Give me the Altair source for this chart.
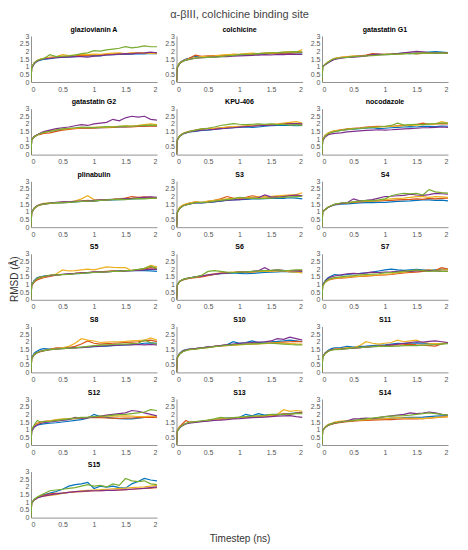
import altair as alt
import pandas as pd

# time points (ns)
T = [0, 0.01, 0.05, 0.1, 0.15, 0.2, 0.3, 0.4, 0.5, 0.6, 0.7, 0.8, 0.9, 1.0,
     1.1, 1.2, 1.3, 1.4, 1.5, 1.6, 1.7, 1.8, 1.9, 2.0]
SERIES = ["run1", "run2", "run3", "run4", "run5"]
COLORS = ["#0072BD", "#D95319", "#EDB120", "#7E2F8E", "#77AC30"]
X_TICKS = [0, 0.5, 1, 1.5, 2]
Y_TICKS = [0, 0.5, 1, 1.5, 2, 2.5, 3]
MAIN_TITLE = "α-βIII, colchicine binding site"
X_TITLE = "Timestep (ns)"
Y_TITLE = "RMSD (Å)"

GLAZIOVIANIN_A = [
    [0, 0.9, 1.2, 1.35, 1.42, 1.48, 1.52, 1.58, 1.6, 1.62, 1.66, 1.68, 1.7, 1.72, 1.7, 1.76, 1.78, 1.8, 1.8, 1.82, 1.85, 1.83, 1.86, 1.85],
    [0, 0.95, 1.25, 1.4, 1.48, 1.52, 1.6, 1.62, 1.68, 1.66, 1.72, 1.75, 1.74, 1.78, 1.76, 1.8, 1.82, 1.86, 1.84, 1.88, 1.9, 1.88, 1.92, 1.9],
    [0, 0.95, 1.25, 1.42, 1.5, 1.55, 1.6, 1.66, 1.78, 1.72, 1.76, 1.8, 1.78, 1.82, 1.8, 1.85, 1.88, 1.9, 1.86, 1.9, 1.88, 1.92, 1.86, 1.85],
    [0, 0.9, 1.2, 1.38, 1.45, 1.5, 1.55, 1.58, 1.62, 1.64, 1.66, 1.65, 1.62, 1.68, 1.72, 1.76, 1.78, 1.82, 1.85, 1.84, 1.88, 1.9, 1.95, 1.9],
    [0, 0.95, 1.25, 1.4, 1.48, 1.52, 1.78, 1.66, 1.68, 1.7, 1.75, 1.85, 1.9, 2.05, 2.02, 2.1, 2.15, 2.2, 2.3, 2.22, 2.28, 2.35, 2.3, 2.3],
]
COLCHICINE = [
    [0, 0.95, 1.25, 1.4, 1.5, 1.55, 1.68, 1.62, 1.65, 1.68, 1.7, 1.72, 1.75, 1.76, 1.78, 1.8, 1.82, 1.84, 1.85, 1.86, 1.88, 1.9, 1.92, 1.9],
    [0, 0.95, 1.25, 1.38, 1.45, 1.55, 1.75, 1.68, 1.7, 1.72, 1.7, 1.75, 1.8, 1.78, 1.82, 1.8, 1.84, 1.86, 1.85, 1.88, 1.9, 1.88, 1.92, 1.95],
    [0, 0.95, 1.22, 1.36, 1.45, 1.5, 1.6, 1.65, 1.68, 1.7, 1.75, 1.78, 1.8, 1.82, 1.85, 1.88, 1.86, 1.9, 1.92, 1.9, 1.95, 1.98, 1.95, 2.12],
    [0, 0.9, 1.2, 1.35, 1.42, 1.48, 1.55, 1.58, 1.6, 1.62, 1.65, 1.66, 1.68, 1.7, 1.72, 1.74, 1.75, 1.78, 1.76, 1.8, 1.78, 1.82, 1.8, 1.8],
    [0, 0.95, 1.22, 1.35, 1.42, 1.48, 1.55, 1.58, 1.6, 1.62, 1.66, 1.7, 1.74, 1.78, 1.8, 1.82, 1.85, 1.88, 1.9, 1.92, 1.95, 1.96, 1.98, 1.95],
]
GATASTATIN_G1 = [
    [0, 1.0, 1.15, 1.28, 1.4, 1.5, 1.58, 1.62, 1.66, 1.7, 1.72, 1.8, 1.78, 1.8, 1.84, 1.86, 1.88, 1.85, 1.9, 1.92, 1.95, 1.98, 1.95, 1.92],
    [0, 1.0, 1.15, 1.3, 1.42, 1.52, 1.6, 1.64, 1.68, 1.7, 1.75, 1.85, 1.82, 1.8, 1.82, 1.85, 1.86, 1.88, 1.84, 1.86, 1.88, 1.9, 1.92, 1.88],
    [0, 1.0, 1.15, 1.3, 1.45, 1.55, 1.6, 1.65, 1.7, 1.68, 1.72, 1.75, 1.78, 1.8, 1.82, 1.8, 1.85, 1.86, 1.88, 1.9, 1.86, 1.88, 1.9, 1.92],
    [0, 1.0, 1.12, 1.25, 1.38, 1.48, 1.55, 1.6, 1.62, 1.65, 1.7, 1.78, 1.82, 1.78, 1.8, 1.85, 1.9, 1.95, 2.0, 1.96, 1.92, 1.88, 1.92, 1.9],
    [0, 1.0, 1.15, 1.3, 1.45, 1.52, 1.58, 1.6, 1.65, 1.68, 1.7, 1.72, 1.75, 1.78, 1.8, 1.82, 1.84, 1.86, 1.85, 1.88, 1.9, 1.88, 1.9, 1.88],
]
GATASTATIN_G2 = [
    [0, 0.95, 1.15, 1.3, 1.38, 1.45, 1.55, 1.6, 1.65, 1.7, 1.72, 1.74, 1.72, 1.75, 1.76, 1.78, 1.8, 1.82, 1.8, 1.84, 1.85, 1.86, 1.9, 1.88],
    [0, 0.95, 1.15, 1.28, 1.32, 1.38, 1.42, 1.52, 1.6, 1.65, 1.7, 1.72, 1.74, 1.72, 1.75, 1.76, 1.78, 1.8, 1.82, 1.8, 1.84, 1.86, 1.85, 1.85],
    [0, 0.95, 1.18, 1.3, 1.38, 1.45, 1.55, 1.62, 1.66, 1.7, 1.72, 1.75, 1.76, 1.78, 1.8, 1.78, 1.82, 1.85, 1.88, 1.86, 1.9, 1.95, 2.0, 1.95],
    [0, 0.95, 1.18, 1.3, 1.4, 1.5, 1.6, 1.7, 1.75, 1.8, 1.88, 1.95, 1.9, 2.0, 2.05, 2.1, 2.3, 2.2, 2.4, 2.5, 2.45, 2.5, 2.3, 2.25],
    [0, 0.95, 1.15, 1.28, 1.38, 1.45, 1.52, 1.6, 1.68, 1.72, 1.75, 1.8, 1.78, 1.76, 1.8, 1.82, 1.8, 1.84, 1.86, 1.85, 1.88, 1.9, 1.92, 1.9],
]
KPU_406 = [
    [0, 0.95, 1.2, 1.35, 1.42, 1.48, 1.52, 1.58, 1.6, 1.65, 1.7, 1.72, 1.75, 1.78, 1.8, 1.78, 1.8, 1.85, 1.88, 1.9, 1.92, 1.9, 1.88, 1.9],
    [0, 0.95, 1.22, 1.38, 1.45, 1.52, 1.6, 1.68, 1.72, 1.7, 1.75, 1.78, 1.8, 1.82, 1.85, 1.88, 1.9, 1.92, 1.95, 1.98, 2.0, 2.05, 2.0, 1.98],
    [0, 0.95, 1.22, 1.38, 1.45, 1.5, 1.58, 1.65, 1.7, 1.72, 1.75, 1.8, 1.82, 1.85, 1.88, 1.9, 1.92, 1.95, 1.98, 2.0, 2.05, 2.1, 2.15, 2.05],
    [0, 0.9, 1.2, 1.35, 1.42, 1.48, 1.55, 1.6, 1.62, 1.65, 1.7, 1.72, 1.75, 1.8, 1.82, 1.85, 1.88, 1.9, 1.92, 1.95, 1.98, 2.0, 2.02, 2.0],
    [0, 0.95, 1.2, 1.36, 1.44, 1.5, 1.6, 1.68, 1.72, 1.8, 1.9, 1.95, 2.02, 1.98, 1.95, 1.98, 2.0, 1.98, 2.0, 1.95, 1.98, 1.92, 1.95, 1.9],
]
NOCODAZOLE = [
    [0, 0.95, 1.22, 1.38, 1.48, 1.52, 1.58, 1.62, 1.66, 1.7, 1.72, 1.75, 1.7, 1.72, 1.75, 1.78, 1.8, 1.82, 1.8, 1.84, 1.85, 1.82, 1.86, 1.85],
    [0, 0.95, 1.25, 1.4, 1.48, 1.55, 1.62, 1.68, 1.72, 1.75, 1.8, 1.82, 1.85, 1.82, 1.85, 1.88, 1.9, 1.92, 1.95, 2.05, 1.98, 2.0, 2.02, 2.0],
    [0, 0.95, 1.25, 1.4, 1.5, 1.55, 1.6, 1.65, 1.7, 1.72, 1.75, 1.78, 1.8, 1.82, 1.85, 1.86, 1.88, 1.9, 1.92, 1.95, 1.98, 2.0, 2.15, 2.05],
    [0, 0.9, 1.15, 1.3, 1.35, 1.38, 1.42, 1.48, 1.52, 1.55, 1.58, 1.6, 1.62, 1.6, 1.62, 1.65, 1.68, 1.7, 1.72, 1.75, 1.76, 1.78, 1.8, 1.78],
    [0, 0.95, 1.22, 1.36, 1.45, 1.5, 1.58, 1.64, 1.68, 1.72, 1.75, 1.78, 1.8, 1.85, 1.9, 2.05, 1.92, 1.95, 1.98, 1.95, 2.0, 2.02, 2.05, 2.05],
]
PLINABULIN = [
    [0, 0.95, 1.25, 1.4, 1.48, 1.52, 1.55, 1.58, 1.6, 1.62, 1.65, 1.68, 1.72, 1.7, 1.75, 1.76, 1.78, 1.8, 1.82, 1.85, 1.86, 1.88, 1.9, 1.92],
    [0, 0.95, 1.22, 1.38, 1.45, 1.5, 1.55, 1.6, 1.62, 1.65, 1.68, 1.7, 1.75, 1.72, 1.76, 1.8, 1.82, 1.85, 1.9, 2.0, 1.95, 1.98, 1.95, 1.92],
    [0, 0.95, 1.25, 1.42, 1.5, 1.55, 1.58, 1.6, 1.64, 1.66, 1.7, 1.85, 2.05, 1.8, 1.78, 1.8, 1.82, 1.85, 1.86, 1.88, 1.9, 1.92, 1.9, 1.88],
    [0, 0.95, 1.22, 1.4, 1.48, 1.52, 1.58, 1.62, 1.65, 1.66, 1.68, 1.7, 1.72, 1.75, 1.78, 1.8, 1.82, 1.84, 1.86, 1.88, 1.92, 1.95, 1.98, 1.95],
    [0, 0.95, 1.22, 1.38, 1.45, 1.5, 1.55, 1.6, 1.58, 1.62, 1.65, 1.68, 1.7, 1.72, 1.75, 1.78, 1.8, 1.82, 1.8, 1.84, 1.86, 1.85, 1.88, 1.9],
]
S3 = [
    [0, 0.95, 1.25, 1.4, 1.48, 1.52, 1.6, 1.58, 1.62, 1.65, 1.7, 1.75, 1.78, 1.8, 1.82, 1.85, 1.84, 1.86, 1.88, 1.9, 1.88, 1.92, 1.9, 1.85],
    [0, 0.95, 1.25, 1.42, 1.5, 1.55, 1.65, 1.6, 1.68, 1.75, 1.85, 2.0, 1.9, 1.88, 1.95, 2.05, 1.98, 2.0, 1.95, 2.02, 2.05, 2.08, 2.1, 2.05],
    [0, 1.0, 1.3, 1.45, 1.52, 1.58, 1.66, 1.62, 1.7, 1.75, 1.8, 1.85, 1.88, 1.9, 1.92, 1.95, 1.98, 2.0, 2.02, 2.05, 2.08, 2.1, 2.12, 2.25],
    [0, 0.95, 1.22, 1.38, 1.45, 1.5, 1.58, 1.6, 1.62, 1.66, 1.72, 1.76, 1.78, 1.8, 1.85, 1.88, 1.92, 2.1, 1.98, 1.95, 2.0, 2.05, 2.1, 2.05],
    [0, 0.95, 1.22, 1.38, 1.45, 1.5, 1.6, 1.62, 1.64, 1.7, 1.75, 1.8, 1.85, 1.95, 1.9, 1.88, 1.86, 1.88, 1.9, 1.92, 1.95, 1.98, 2.0, 2.02],
]
S4 = [
    [0, 1.0, 1.15, 1.3, 1.38, 1.45, 1.5, 1.52, 1.55, 1.58, 1.6, 1.6, 1.62, 1.62, 1.65, 1.68, 1.7, 1.72, 1.75, 1.78, 1.78, 1.75, 1.76, 1.72],
    [0, 1.0, 1.15, 1.3, 1.4, 1.48, 1.55, 1.58, 1.62, 1.65, 1.68, 1.7, 1.72, 1.75, 1.75, 1.78, 1.8, 1.82, 1.85, 1.82, 1.88, 1.85, 1.88, 1.9],
    [0, 1.0, 1.15, 1.32, 1.4, 1.48, 1.55, 1.6, 1.65, 1.68, 1.7, 1.72, 1.75, 1.8, 1.85, 1.88, 1.9, 1.95, 2.0, 2.0, 1.95, 2.0, 1.98, 1.95],
    [0, 1.0, 1.15, 1.3, 1.4, 1.48, 1.55, 1.6, 1.85, 1.72, 1.75, 1.8, 1.9, 2.0, 2.02, 2.05, 2.08, 2.15, 2.1, 2.08, 2.12, 2.2, 2.18, 2.15],
    [0, 1.0, 1.15, 1.32, 1.42, 1.5, 1.58, 1.6, 1.65, 1.7, 1.75, 1.72, 1.78, 1.85, 2.05, 2.15, 2.2, 2.18, 2.2, 2.1, 2.45, 2.3, 2.25, 2.22],
]
S5 = [
    [0, 0.95, 1.25, 1.45, 1.5, 1.55, 1.6, 1.62, 1.65, 1.68, 1.7, 1.72, 1.75, 1.8, 1.82, 1.84, 1.86, 1.88, 1.88, 1.9, 1.92, 1.9, 1.88, 1.85],
    [0, 0.9, 1.15, 1.3, 1.38, 1.45, 1.52, 1.6, 1.65, 1.68, 1.72, 1.75, 1.78, 1.8, 1.82, 1.85, 1.88, 1.86, 1.9, 1.92, 1.95, 2.0, 2.1, 2.05],
    [0, 0.95, 1.2, 1.38, 1.45, 1.5, 1.6, 1.68, 1.95, 1.88, 1.9, 1.95, 2.0, 1.95, 2.05, 2.15, 2.12, 2.1, 2.1, 1.9, 1.95, 2.05, 2.25, 2.15],
    [0, 0.95, 1.22, 1.4, 1.48, 1.52, 1.58, 1.62, 1.66, 1.7, 1.72, 1.75, 1.78, 1.8, 1.8, 1.82, 1.85, 1.86, 1.88, 1.9, 1.92, 1.95, 2.0, 1.98],
    [0, 0.95, 1.22, 1.4, 1.48, 1.52, 1.6, 1.62, 1.64, 1.66, 1.7, 1.72, 1.75, 1.78, 1.8, 1.82, 1.85, 1.86, 1.9, 1.92, 1.98, 2.05, 2.2, 2.05],
]
S6 = [
    [0, 0.95, 1.2, 1.32, 1.38, 1.42, 1.5, 1.55, 1.6, 1.65, 1.7, 1.72, 1.75, 1.72, 1.7, 1.72, 1.75, 1.78, 1.8, 1.82, 1.85, 1.82, 1.8, 1.8],
    [0, 0.95, 1.2, 1.3, 1.35, 1.4, 1.45, 1.5, 1.58, 1.65, 1.72, 1.75, 1.78, 1.8, 1.82, 1.8, 1.85, 1.88, 1.9, 1.92, 1.9, 1.88, 1.9, 1.92],
    [0, 0.95, 1.2, 1.32, 1.38, 1.42, 1.48, 1.55, 1.62, 1.7, 1.75, 1.78, 1.8, 1.82, 1.8, 1.82, 1.85, 1.86, 1.85, 1.88, 1.9, 1.82, 1.8, 1.75],
    [0, 0.95, 1.2, 1.32, 1.38, 1.42, 1.5, 1.55, 1.62, 1.68, 1.72, 1.75, 1.78, 1.8, 1.82, 1.85, 1.9, 2.1, 1.9, 1.95, 1.92, 1.9, 1.88, 1.85],
    [0, 0.95, 1.2, 1.32, 1.38, 1.42, 1.5, 1.6, 1.85, 1.9, 1.85, 1.8, 1.78, 1.8, 1.82, 1.85, 1.88, 1.9, 1.92, 1.95, 1.9, 1.92, 1.95, 1.95],
]
S7 = [
    [0, 0.95, 1.25, 1.45, 1.55, 1.65, 1.6, 1.65, 1.7, 1.72, 1.75, 1.8, 1.88, 1.95, 2.0, 1.95, 1.92, 1.95, 1.98, 1.95, 1.92, 1.95, 1.98, 2.0],
    [0, 0.9, 1.15, 1.28, 1.35, 1.38, 1.42, 1.45, 1.5, 1.52, 1.55, 1.58, 1.6, 1.62, 1.65, 1.7, 1.75, 1.78, 1.8, 1.85, 1.88, 1.92, 2.1, 2.0],
    [0, 0.9, 1.15, 1.3, 1.38, 1.42, 1.45, 1.48, 1.52, 1.55, 1.58, 1.6, 1.62, 1.65, 1.7, 1.75, 1.8, 1.85, 1.9, 1.92, 1.95, 1.9, 1.95, 1.95],
    [0, 0.95, 1.2, 1.4, 1.5, 1.55, 1.62, 1.7, 1.72, 1.7, 1.75, 1.8, 1.78, 1.8, 1.82, 1.85, 1.88, 1.85, 1.88, 1.9, 1.92, 1.88, 1.85, 1.85],
    [0, 0.9, 1.18, 1.32, 1.4, 1.45, 1.5, 1.55, 1.58, 1.62, 1.65, 1.68, 1.7, 1.75, 1.78, 1.8, 1.85, 1.9, 1.95, 1.9, 1.85, 1.88, 1.86, 1.85],
]
S8 = [
    [0, 0.95, 1.25, 1.4, 1.5, 1.55, 1.52, 1.55, 1.58, 1.6, 1.62, 1.64, 1.66, 1.68, 1.7, 1.72, 1.75, 1.78, 1.8, 1.82, 1.85, 1.9, 1.92, 1.9],
    [0, 0.9, 1.15, 1.28, 1.35, 1.4, 1.5, 1.6, 1.58, 1.62, 1.7, 1.85, 2.05, 1.9, 1.85, 1.88, 1.9, 1.92, 1.95, 1.98, 2.0, 2.05, 2.1, 2.0],
    [0, 0.9, 1.18, 1.3, 1.38, 1.42, 1.5, 1.55, 1.6, 1.7, 1.9, 2.2, 2.1, 2.05, 1.95, 1.98, 2.0, 2.0, 2.02, 2.05, 2.08, 2.1, 2.25, 2.1],
    [0, 0.9, 1.15, 1.3, 1.38, 1.42, 1.48, 1.52, 1.55, 1.58, 1.6, 1.62, 1.65, 1.7, 1.72, 1.74, 1.76, 1.78, 1.8, 1.8, 1.82, 1.8, 1.82, 1.8],
    [0, 0.9, 1.15, 1.3, 1.38, 1.42, 1.48, 1.52, 1.55, 1.58, 1.6, 1.65, 1.7, 1.75, 1.78, 1.8, 1.82, 1.84, 1.85, 1.88, 1.9, 2.1, 1.95, 1.85],
]
S10 = [
    [0, 0.95, 1.25, 1.42, 1.48, 1.52, 1.56, 1.6, 1.66, 1.7, 1.75, 1.8, 2.0, 1.9, 1.95, 2.05, 1.95, 1.98, 2.0, 2.02, 2.05, 2.1, 2.05, 2.0],
    [0, 0.95, 1.22, 1.38, 1.45, 1.5, 1.55, 1.6, 1.65, 1.7, 1.74, 1.78, 1.8, 1.82, 1.85, 1.86, 1.88, 1.9, 1.92, 1.95, 1.98, 2.0, 2.02, 2.0],
    [0, 0.95, 1.22, 1.38, 1.45, 1.48, 1.52, 1.58, 1.62, 1.68, 1.72, 1.75, 1.78, 1.8, 1.82, 1.85, 1.86, 1.88, 1.9, 1.92, 1.9, 1.88, 1.86, 1.85],
    [0, 0.95, 1.22, 1.38, 1.45, 1.5, 1.55, 1.6, 1.65, 1.7, 1.75, 1.8, 1.85, 1.9, 1.92, 1.95, 1.98, 2.0, 2.05, 2.2, 2.15, 2.3, 2.2, 2.1],
    [0, 0.95, 1.2, 1.35, 1.42, 1.48, 1.52, 1.58, 1.62, 1.68, 1.72, 1.76, 1.8, 1.82, 1.84, 1.86, 1.88, 1.9, 1.9, 1.88, 1.85, 1.82, 1.8, 1.8],
]
S11 = [
    [0, 1.0, 1.28, 1.45, 1.55, 1.6, 1.62, 1.7, 1.65, 1.7, 1.72, 1.75, 1.78, 1.8, 1.85, 1.9, 1.88, 1.9, 1.92, 1.9, 1.88, 1.86, 1.88, 1.9],
    [0, 1.0, 1.25, 1.4, 1.48, 1.52, 1.55, 1.58, 1.6, 1.62, 1.65, 1.7, 1.72, 1.75, 1.78, 1.8, 1.82, 1.85, 1.8, 1.78, 1.75, 1.72, 1.85, 1.95],
    [0, 1.0, 1.25, 1.4, 1.48, 1.52, 1.55, 1.6, 1.62, 1.75, 2.0, 1.9, 1.85, 1.9, 1.95, 2.1, 2.0, 2.05, 2.1, 1.95, 1.9, 1.88, 1.9, 1.95],
    [0, 1.0, 1.25, 1.4, 1.48, 1.5, 1.52, 1.55, 1.58, 1.62, 1.65, 1.68, 1.7, 1.75, 1.8, 1.85, 1.9, 1.95, 2.0, 1.98, 2.02, 2.05, 2.0, 1.95],
    [0, 1.0, 1.22, 1.38, 1.45, 1.48, 1.5, 1.55, 1.6, 1.62, 1.65, 1.68, 1.7, 1.72, 1.7, 1.72, 1.74, 1.75, 1.75, 1.78, 1.8, 1.82, 1.85, 1.88],
]
S12 = [
    [0, 0.9, 1.15, 1.3, 1.35, 1.38, 1.42, 1.45, 1.5, 1.55, 1.6, 1.65, 1.75, 2.0, 1.85, 1.8, 1.75, 1.72, 1.7, 1.7, 1.75, 1.8, 1.82, 1.85],
    [0, 0.95, 1.25, 1.42, 1.5, 1.55, 1.58, 1.62, 1.65, 1.7, 1.72, 1.75, 1.78, 1.8, 1.78, 1.76, 1.75, 1.74, 1.75, 1.76, 1.78, 1.8, 1.82, 1.8],
    [0, 0.95, 1.22, 1.38, 1.45, 1.5, 1.58, 1.65, 1.7, 1.72, 1.75, 1.78, 1.8, 1.85, 1.86, 1.88, 1.9, 1.88, 1.9, 1.88, 1.86, 1.85, 1.88, 1.85],
    [0, 0.9, 1.18, 1.32, 1.4, 1.45, 1.5, 1.55, 1.6, 1.65, 1.8, 1.75, 1.78, 1.82, 1.88, 1.95, 2.0, 2.05, 2.1, 2.25, 2.2, 2.1, 2.0, 1.9],
    [0, 1.0, 1.3, 1.6, 1.5, 1.52, 1.55, 1.6, 1.65, 1.7, 1.75, 1.8, 1.82, 1.85, 1.88, 1.9, 1.95, 1.98, 2.0, 2.05, 2.1, 2.15, 2.3, 2.25],
]
S13 = [
    [0, 0.9, 1.12, 1.3, 1.4, 1.45, 1.5, 1.55, 1.6, 1.65, 1.7, 1.75, 1.78, 1.8, 2.0, 1.9, 2.05, 1.95, 1.98, 2.0, 2.02, 2.05, 2.1, 2.15],
    [0, 0.95, 1.2, 1.4, 1.6, 1.5, 1.52, 1.55, 1.6, 1.65, 1.68, 1.72, 1.75, 1.78, 1.8, 1.82, 1.85, 1.88, 1.9, 1.95, 2.05, 2.0, 2.08, 2.1],
    [0, 0.9, 1.15, 1.3, 1.4, 1.45, 1.5, 1.55, 1.6, 1.65, 1.7, 1.72, 1.75, 1.8, 1.82, 1.85, 1.88, 1.9, 1.95, 2.0, 2.3, 2.2, 2.25, 2.2],
    [0, 0.9, 1.12, 1.28, 1.38, 1.42, 1.48, 1.52, 1.55, 1.6, 1.62, 1.65, 1.7, 1.72, 1.75, 1.78, 1.8, 1.82, 1.85, 1.88, 1.9, 1.92, 1.85, 1.8],
    [0, 0.9, 1.15, 1.3, 1.4, 1.48, 1.52, 1.58, 1.62, 1.7, 1.8, 1.75, 1.78, 1.82, 1.85, 1.88, 1.9, 1.92, 2.0, 1.98, 2.0, 2.02, 2.05, 2.05],
]
S14 = [
    [0, 0.95, 1.15, 1.3, 1.38, 1.42, 1.5, 1.55, 1.6, 1.62, 1.65, 1.68, 1.7, 1.72, 1.75, 1.76, 1.78, 1.8, 1.8, 1.82, 1.85, 1.88, 1.9, 1.9],
    [0, 0.95, 1.15, 1.28, 1.35, 1.4, 1.48, 1.52, 1.55, 1.58, 1.6, 1.62, 1.64, 1.65, 1.66, 1.68, 1.7, 1.72, 1.7, 1.72, 1.75, 1.78, 1.82, 1.85],
    [0, 0.95, 1.2, 1.35, 1.42, 1.5, 1.56, 1.58, 1.6, 1.62, 1.65, 1.68, 1.7, 1.72, 1.75, 1.78, 1.75, 1.76, 1.75, 1.72, 1.75, 1.8, 1.82, 1.85],
    [0, 0.95, 1.15, 1.3, 1.38, 1.45, 1.5, 1.58, 1.7, 1.72, 1.75, 1.72, 1.78, 1.85, 1.9, 1.95, 2.0, 2.1, 2.05, 2.08, 2.15, 2.1, 2.0, 1.95],
    [0, 0.95, 1.15, 1.3, 1.38, 1.45, 1.5, 1.55, 1.6, 1.65, 1.7, 1.75, 1.8, 1.85, 1.88, 1.9, 1.92, 1.95, 2.0, 2.05, 2.1, 2.05, 2.0, 1.95],
]
S15 = [
    [0, 0.95, 1.15, 1.3, 1.4, 1.48, 1.6, 1.7, 1.85, 2.05, 2.15, 2.2, 2.3, 1.9, 2.05, 1.98, 2.05, 1.95, 1.92, 2.2, 2.35, 2.55, 2.45, 2.4],
    [0, 0.95, 1.15, 1.3, 1.4, 1.45, 1.55, 1.58, 1.6, 1.65, 1.68, 1.7, 1.72, 1.75, 1.76, 1.78, 1.78, 1.8, 1.82, 1.85, 1.88, 1.9, 1.92, 1.95],
    [0, 0.95, 1.15, 1.28, 1.36, 1.4, 1.45, 1.5, 1.58, 1.65, 1.7, 1.75, 1.78, 1.8, 1.82, 1.85, 1.88, 1.9, 1.92, 1.95, 1.98, 2.0, 2.05, 2.1],
    [0, 0.95, 1.15, 1.28, 1.35, 1.4, 1.48, 1.55, 1.6, 1.65, 1.7, 1.72, 1.74, 1.75, 1.76, 1.78, 1.78, 1.8, 1.82, 1.85, 1.88, 1.9, 1.95, 2.0],
    [0, 0.95, 1.2, 1.35, 1.45, 1.55, 1.75, 1.8, 1.85, 1.9, 1.95, 2.05, 2.15, 2.05, 2.1, 2.0, 2.2, 2.1, 2.55, 2.4, 2.35, 2.4, 2.2, 2.15],
]

PANELS = [
    ("glaziovianin A", GLAZIOVIANIN_A), ("colchicine", COLCHICINE), ("gatastatin G1", GATASTATIN_G1),
    ("gatastatin G2", GATASTATIN_G2), ("KPU-406", KPU_406), ("nocodazole", NOCODAZOLE),
    ("plinabulin", PLINABULIN), ("S3", S3), ("S4", S4),
    ("S5", S5), ("S6", S6), ("S7", S7),
    ("S8", S8), ("S10", S10), ("S11", S11),
    ("S12", S12), ("S13", S13), ("S14", S14),
    ("S15", S15),
]

for name, runs in PANELS:
    for r in runs:
        assert len(r) == len(T), (name, len(r))

FONT = "Liberation Sans"
PW, PH = 126, 46


def make_panel(name, runs):
    rows = []
    for s, vals in zip(SERIES, runs):
        for t, v in zip(T, vals):
            rows.append({"t": t, "rmsd": v, "run": s})
    df = pd.DataFrame(rows)

    xkw = dict(values=X_TICKS, format="~g", labelPadding=3)
    ykw = dict(values=Y_TICKS, format="~g", labelPadding=2)
    if name == "S15":
        xkw.update(title=X_TITLE, titleX=208.5, titleY=21, titleAlign="center",
                   titleBaseline="middle")
    else:
        xkw.update(title=None)
    if name == "S5":
        ykw.update(title=Y_TITLE, titleX=-17, titleY=25, titleAlign="center",
                   titleBaseline="middle")
    else:
        ykw.update(title=None)

    if name == "colchicine":
        title = alt.TitleParams(
            text=MAIN_TITLE, subtitle=name, font=FONT, fontSize=11, fontWeight="normal",
            color="#444444", subtitleFont=FONT, subtitleFontSize=7,
            subtitleFontWeight="bold", subtitleColor="#000000", subtitlePadding=6,
            anchor="middle", offset=-0.5)
    else:
        title = alt.TitleParams(text=name, font=FONT, fontSize=7, fontWeight="bold",
                                color="#000000", anchor="middle", offset=-0.5)

    return alt.Chart(df).mark_line(strokeWidth=1.2, clip=True).encode(
        x=alt.X("t:Q", scale=alt.Scale(domain=[0, 2], nice=False), axis=alt.Axis(**xkw)),
        y=alt.Y("rmsd:Q", scale=alt.Scale(domain=[0, 3], nice=False), axis=alt.Axis(**ykw)),
        color=alt.Color("run:N", scale=alt.Scale(domain=SERIES, range=COLORS), legend=None),
    ).properties(width=PW, height=PH, title=title)


charts = [make_panel(n, r) for n, r in PANELS]

chart = alt.concat(
    *charts, columns=3, spacing={"row": 26.6, "column": 19.5}, bounds="flush"
).properties(
    padding={"left": 0, "top": 0, "right": 5, "bottom": 2}
).configure_view(
    stroke=None
).configure_axis(
    grid=False, ticks=False, domainColor="#777777", domainWidth=0.8,
    labelFont=FONT, labelFontSize=7, labelColor="#555555",
    titleFont=FONT, titleFontSize=10, titleFontWeight="normal", titleColor="#333333",
)

chart.save("out.html", embed_options={"renderer": "svg", "actions": False})
